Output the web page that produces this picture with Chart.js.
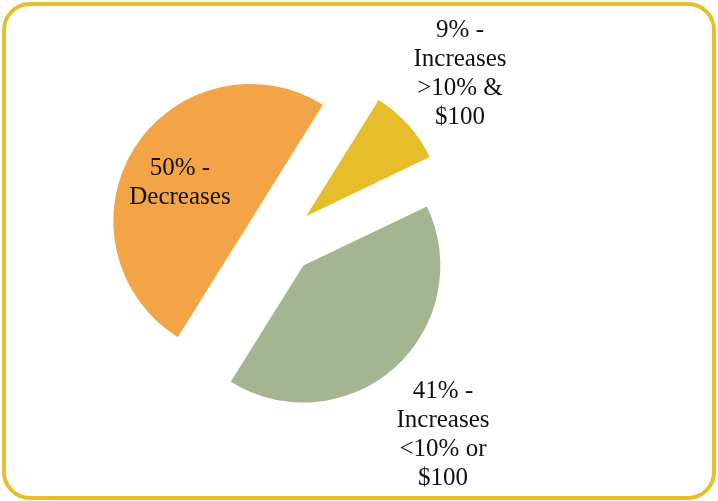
<!DOCTYPE html>
<html>
<head>
<meta charset="utf-8">
<script src="https://cdn.jsdelivr.net/npm/chart.js@4.4.1/dist/chart.umd.min.js"></script>
<style>
  html, body { margin: 0; padding: 0; background: #fff; }
</style>
</head>
<body>
<canvas id="pie" width="718" height="501"></canvas>
<script>
// data
const shares = [9, 41, 50];
const categoryLines = [
    ['Increases', '>10% &', '$100'],
    ['Increases', '<10% or', '$100'],
    ['Decreases']
];
const sliceColors = ['#E6BE2B', '#A5B591', '#F2A447'];

// label placement, relative to each slice's bisector
const labelDist = [1.785, 1.855, 0.839];
const labelTurn = [-0.8, 1.9, -2.5];
const LINE_H = 29;
const EXPLODE = 35;

// pull every slice out along its bisector
const explodePlugin = {
    id: 'explode',
    beforeDatasetDraw(chart, args) {
        const ctx = chart.ctx;
        args.meta.data.forEach(arc => {
            const mid = (arc.startAngle + arc.endAngle) / 2;
            ctx.save();
            ctx.translate(Math.cos(mid) * EXPLODE, Math.sin(mid) * EXPLODE);
            arc.draw(ctx);
            ctx.restore();
        });
        return false;
    }
};

const labelPlugin = {
    id: 'sliceLabels',
    afterDatasetsDraw(chart) {
        const ctx = chart.ctx;
        const arcs = chart.getDatasetMeta(0).data;
        ctx.save();
        ctx.font = '25px "Liberation Serif", "DejaVu Serif", serif';
        ctx.fillStyle = '#111';
        ctx.textAlign = 'center';
        ctx.textBaseline = 'middle';
        arcs.forEach((arc, i) => {
            const lines = [shares[i] + '% -', ...categoryLines[i]];
            const a = (arc.startAngle + arc.endAngle) / 2 + labelTurn[i] * Math.PI / 180;
            const d = arc.outerRadius * labelDist[i];
            const cx = arc.x + Math.cos(a) * d;
            const cy = arc.y + Math.sin(a) * d;
            const top = cy - (lines.length - 1) * LINE_H / 2;
            lines.forEach((t, k) => ctx.fillText(t, cx, top + k * LINE_H));
        });
        ctx.restore();
    }
};

const framePlugin = {
    id: 'frame',
    afterDraw(chart) {
        const ctx = chart.ctx;
        ctx.save();
        ctx.strokeStyle = '#E6BE2E';
        ctx.lineWidth = 4;
        ctx.beginPath();
        ctx.roundRect(4, 4, chart.width - 8, chart.height - 7, 26);
        ctx.stroke();
        ctx.restore();
    }
};

const ctx = document.getElementById('pie').getContext('2d');
new Chart(ctx, {
    type: 'pie',
    data: {
        labels: categoryLines.map(l => l.join(' ')),
        datasets: [{
            data: shares,
            backgroundColor: sliceColors,
            borderWidth: 0
        }]
    },
    options: {
        responsive: false,
        animation: false,
        rotation: 32,
        radius: 137,
        layout: { padding: { left: 0, right: 158, top: 0, bottom: 22 } },
        plugins: {
            legend: { display: false },
            tooltip: { enabled: false }
        }
    },
    plugins: [explodePlugin, labelPlugin, framePlugin]
});
</script>
</body>
</html>
